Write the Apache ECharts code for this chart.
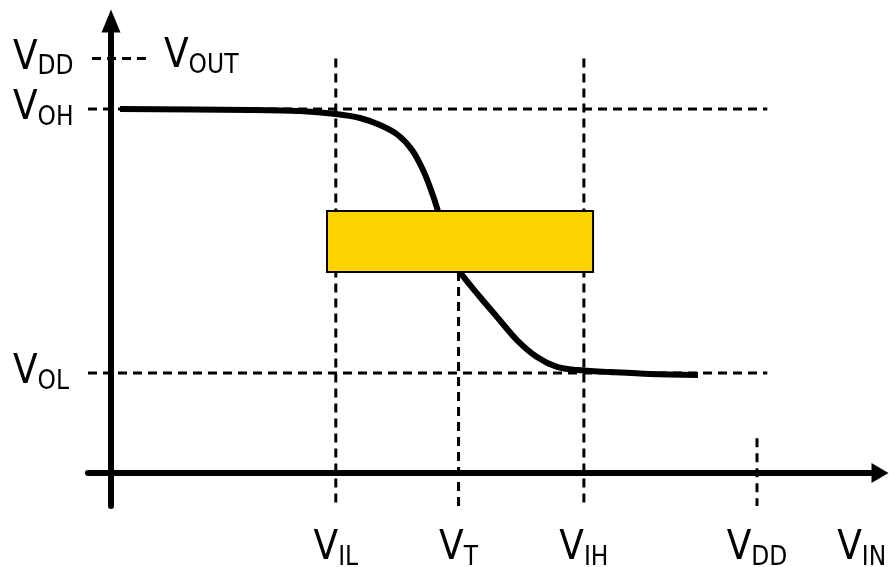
<!DOCTYPE html>
<html>
<head>
<meta charset="utf-8">
<script src="https://cdn.jsdelivr.net/npm/echarts@6/dist/echarts.min.js"></script>
<style>
html, body { margin: 0; padding: 0; background: #fff; }
#chart { width: 890px; height: 567px; }
</style>
</head>
<body>
<div id="chart"></div>
<script>
// tick positions on each axis and their subscripts (V_xx)
const xTicks = [1.74, 2.69, 3.66, 5.0, 5.81];
const xSubs = ['IL', 'T', 'IH', 'DD', 'IN'];
const yTicks = [1.206, 4.39, 5.0];
const ySubs = ['OL', 'OH', 'DD'];

// transfer curve V_OUT vs V_IN
const curve = [
  [0.070, 4.391], [1.076, 4.379], [1.463, 4.366], [1.741, 4.330],
  [1.927, 4.282], [2.082, 4.197], [2.221, 4.077], [2.330, 3.896],
  [2.415, 3.655], [2.477, 3.414], [2.531, 3.160], [2.593, 2.811],
  [2.647, 2.593], [2.701, 2.425], [2.856, 2.123], [2.988, 1.882],
  [3.142, 1.604], [3.297, 1.399], [3.452, 1.279], [3.607, 1.242],
  [3.862, 1.218], [4.172, 1.194], [4.543, 1.182]
];

// transition band: [xFrom, yFrom, xTo, yTo]
const band = [1.672, 2.425, 3.731, 3.160];

// dashed guide lines
const guides = [
  [[-0.263, 5.0], [0.27, 5.0]],     // V_DD (out)
  [[-0.178, 4.39], [5.08, 4.39]],   // V_OH
  [[-0.178, 1.206], [5.08, 1.206]], // V_OL
  [[1.74, 5.0], [1.74, -0.398]],    // V_IL
  [[2.69, 2.425], [2.69, -0.398]],  // V_T
  [[3.66, 5.0], [3.66, -0.398]],    // V_IH
  [[5.0, 0.42], [5.0, -0.398]]      // V_DD (in)
];

const FONT = '"DejaVu Sans Condensed", "DejaVu Sans", sans-serif';
const rich = {
  v: { fontSize: 40, lineHeight: 44, fontFamily: FONT, color: '#000' },
  s: { fontSize: 26, lineHeight: 18, fontFamily: FONT, color: '#000', verticalAlign: 'bottom' }
};

function subLabel(values, subs) {
  return function (val) {
    const i = values.findIndex(t => Math.abs(t - val) < 1e-6);
    return i < 0 ? '' : '{v|V}{s|' + subs[i] + '}';
  };
}

const chart = echarts.init(document.getElementById('chart'));

const series = guides.map(g => ({
  type: 'line',
  data: g,
  showSymbol: false,
  silent: true,
  clip: false,
  z: 1,
  lineStyle: { color: '#000', width: 3, type: [9, 6] }
}));

series.push({
  type: 'line',
  data: curve,
  smooth: 0.3,
  showSymbol: false,
  silent: true,
  clip: false,
  z: 5,
  lineStyle: { color: '#000', width: 6, cap: 'butt' }
});

series.push({
  type: 'custom',
  data: [band],
  silent: true,
  clip: false,
  z: 10,
  renderItem: function (params, api) {
    const p1 = api.coord([api.value(0), api.value(3)]);
    const p2 = api.coord([api.value(2), api.value(1)]);
    return {
      type: 'rect',
      shape: { x: p1[0], y: p1[1], width: p2[0] - p1[0], height: p2[1] - p1[1] },
      style: { fill: '#FFD300', stroke: '#000', lineWidth: 2 }
    };
  }
});

chart.setOption({
  animation: false,
  backgroundColor: '#fff',
  grid: { left: 88, right: 10, top: 21, bottom: 61, containLabel: false, outerBoundsMode: 'none' },
  xAxis: {
    type: 'value',
    min: -0.178,
    max: 5.952,
    splitLine: { show: false },
    axisTick: { show: false },
    axisLine: {
      show: true,
      onZero: true,
      symbol: ['none', 'triangle'],
      symbolSize: [20, 17],
      lineStyle: { color: '#000', width: 6 }
    },
    axisLabel: {
      customValues: xTicks,
      formatter: subLabel(xTicks, xSubs),
      margin: 21,
      hideOverlap: false,
      rich: rich
    }
  },
  yAxis: {
    type: 'value',
    min: -0.398,
    max: 5.452,
    splitLine: { show: false },
    axisTick: { show: false },
    axisLine: {
      show: true,
      onZero: true,
      symbol: ['none', 'triangle'],
      symbolSize: [19, 23],
      lineStyle: { color: '#000', width: 6 }
    },
    axisLabel: {
      customValues: yTicks,
      formatter: subLabel(yTicks, ySubs),
      align: 'left',
      margin: 75,
      hideOverlap: false,
      rich: rich
    },
    name: '{v|V}{s|OUT}',
    nameLocation: 'end',
    nameGap: -36,
    nameMoveOverlap: false,
    nameTextStyle: {
      align: 'left',
      verticalAlign: 'middle',
      padding: [0, 0, 0, 53],
      rich: rich
    }
  },
  series: series
});
</script>
</body>
</html>
